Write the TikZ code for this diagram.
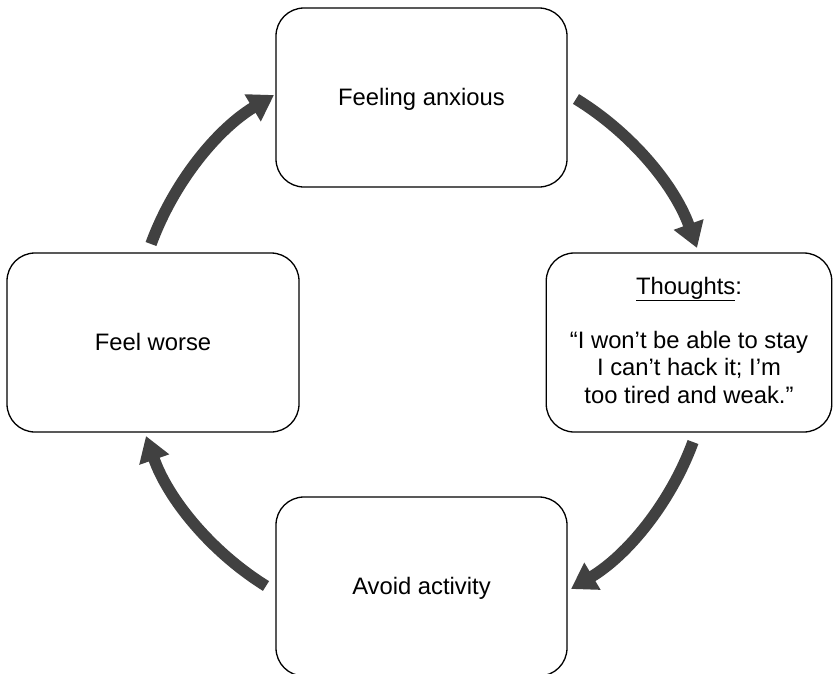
\documentclass[tikz,border=0pt]{standalone}
\usepackage{fontspec}
\setmainfont{Liberation Sans}
\usetikzlibrary{arrows.meta}
\definecolor{arrowgray}{RGB}{65,65,65}
\begin{document}
\begin{tikzpicture}[x=1pt,y=-1pt,
  box/.style={draw,line width=1.3pt,rounded corners=28pt,minimum height=179pt,
    align=center,inner sep=0pt,font=\fontsize{23.8}{27.3}\selectfont},
  oneline/.style={text height=18pt,text depth=2pt},
  cyc/.style={draw=arrowgray,line width=11.5pt,
    -{Triangle[length=25pt,width=30pt]},bend left=19.4,looseness=0.876}]
\useasboundingbox (0,0) rectangle (833,673);
\node[box,oneline,minimum width=291pt] (anx) at (421.5,97.5) {Feeling anxious};
\node[box,minimum width=285.5pt] (tho) at (689,342.5)
  {\underline{Thoughts}:\\[27.3pt]“I won’t be able to stay\\I can’t hack it; I’m\\too tired and weak.”\rule[-5pt]{0pt}{5pt}};
\node[box,oneline,minimum width=292pt] (wor) at (153,342.5) {Feel worse};
\node[box,oneline,minimum width=291pt] (avo) at (421.5,586.5) {Avoid activity};
\coordinate (a1s) at (576,99);  \coordinate (a1e) at (697,248);
\coordinate (a2s) at (693,442); \coordinate (a2e) at (571,589);
\coordinate (a3s) at (266,586); \coordinate (a3e) at (146,436);
\coordinate (a4s) at (151,244); \coordinate (a4e) at (274,95);
\draw[cyc] (a1s) to (a1e);
\draw[cyc] (a2s) to (a2e);
\draw[cyc] (a3s) to (a3e);
\draw[cyc] (a4s) to (a4e);
\end{tikzpicture}
\end{document}
